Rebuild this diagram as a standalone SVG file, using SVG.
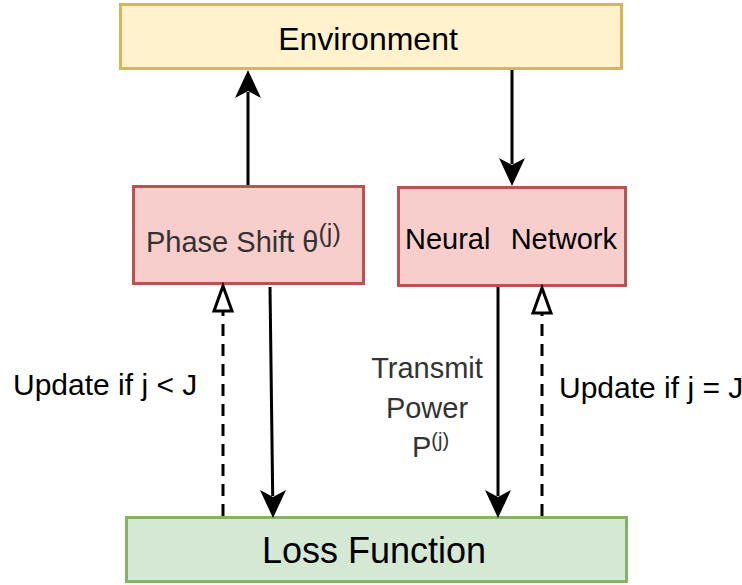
<svg xmlns="http://www.w3.org/2000/svg" width="742" height="585" viewBox="0 0 742 585">
  <style>
    .box { stroke-width: 3; }
    .env { fill: #fff2cc; stroke: #d6b656; }
    .red { fill: #f8cecc; stroke: #b85450; }
    .green { fill: #d5e8d4; stroke: #82b366; }
    text { font-family: "Liberation Sans", Arial, Helvetica, sans-serif; }
    .lbl { fill: #000000; }
    .soft { fill: #333333; }
    .edge { stroke: #000000; stroke-width: 3; fill: none; }
    .dash { stroke-dasharray: 12 8; }
    .head { fill: #000000; }
    .open { fill: #ffffff; stroke: #000000; stroke-width: 3; }
  </style>

  <g id="environment">
    <rect class="box env" x="120.5" y="4.5" width="501" height="64"/>
    <text class="lbl" x="368" y="50" font-size="32" text-anchor="middle">Environment</text>
  </g>

  <g id="phase-shift">
    <rect class="box red" x="133.5" y="186.5" width="230" height="97"/>
    <text class="soft" x="146" y="252" font-size="29">Phase Shift θ<tspan dy="-10" font-size="25">(j)</tspan></text>
  </g>

  <g id="neural-network">
    <rect class="box red" x="398.5" y="187.5" width="227" height="98"/>
    <text class="lbl" x="405" y="249" font-size="29">Neural</text>
    <text class="lbl" x="617" y="249" font-size="29" text-anchor="end">Network</text>
  </g>

  <g id="loss-function">
    <rect class="box green" x="126.5" y="517.5" width="500" height="64"/>
    <text class="lbl" x="374" y="563" font-size="36" text-anchor="middle">Loss Function</text>
  </g>

  <g id="connectors">
    <!-- phase shift up to environment -->
    <line class="edge" x1="248" y1="185" x2="248" y2="92"/>
    <path class="head" d="M248,70 L261,98 L248,91 L235,98 Z"/>
    <!-- environment down to neural network -->
    <line class="edge" x1="512" y1="70" x2="512" y2="164"/>
    <path class="head" d="M512,186 L525,158 L512,165 L499,158 Z"/>
    <!-- loss back to phase shift (dashed, open head) -->
    <line class="edge dash" x1="223" y1="516" x2="223" y2="312"/>
    <path class="open" d="M223,286 L232,311 L214,311 Z"/>
    <!-- phase shift down to loss -->
    <line class="edge" x1="270" y1="287" x2="272.7" y2="496"/>
    <path class="head" d="M273,518 L286,490 L273,497 L260,490 Z"/>
    <!-- neural network down to loss -->
    <line class="edge" x1="498" y1="287" x2="498" y2="496"/>
    <path class="head" d="M498,518 L511,490 L498,497 L485,490 Z"/>
    <!-- loss back to neural network (dashed, open head) -->
    <line class="edge dash" x1="542" y1="516" x2="542" y2="314"/>
    <path class="open" d="M542,288 L551,313 L533,313 Z"/>
  </g>

  <g id="labels">
    <text class="lbl" x="13" y="395" font-size="30">Update if j &lt; J</text>
    <text class="lbl" x="559" y="398" font-size="30">Update if j = J</text>
    <text class="soft" x="427" y="378" font-size="29" text-anchor="middle">Transmit</text>
    <text class="soft" x="427" y="418" font-size="29" text-anchor="middle">Power</text>
    <text class="soft" x="412" y="457" font-size="29">P<tspan dy="-10" font-size="20">(j)</tspan></text>
  </g>
</svg>
